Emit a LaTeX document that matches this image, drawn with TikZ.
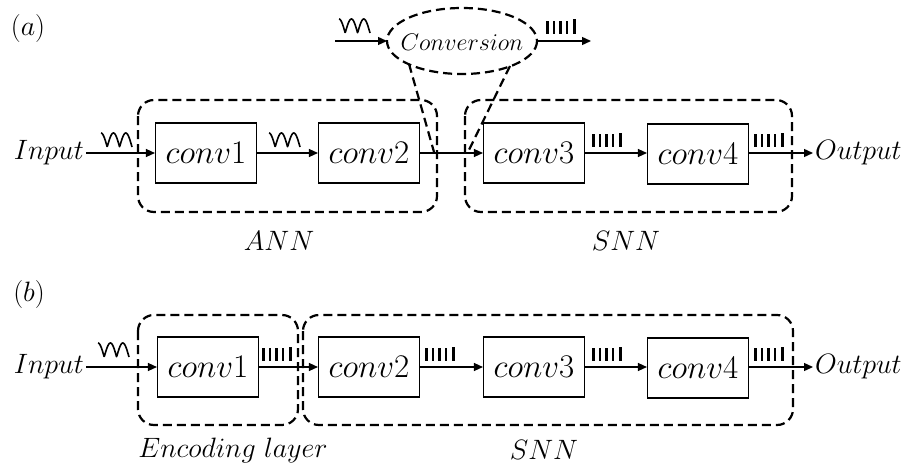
\RequirePackage{fix-cm}
\documentclass[tikz,border=0pt]{standalone}
\usetikzlibrary{arrows.meta,shapes.geometric}
\begin{document}
\begin{tikzpicture}[x=1pt,y=-1pt,
  convbox/.style={draw,line width=1.1pt,minimum width=101pt,minimum height=60pt,inner sep=0pt,font=\fontsize{33}{35}\selectfont},
  lbl/.style={inner sep=2pt,font=\fontsize{28}{30}\selectfont},
  grp/.style={draw,line width=2.2pt,dash pattern=on 9pt off 5pt,rounded corners=16pt},
  callout/.style={line width=2.2pt,dash pattern=on 9pt off 5pt},
  arr/.style={line width=1.3pt,-{Triangle[length=9pt,width=8pt]}},
  wave/.pic={\draw[line width=1.6pt,line join=round] plot[domain=0:450,samples=73] ({\x/450*31},{-14*abs(cos(\x))});},
  spikes/.pic={\foreach \i in {0,...,3} \fill (\i*6.5,0) rectangle ++(2.6,-13); \fill (27,0) rectangle ++(2.6,-14.5);}
]
\useasboundingbox (0,0) rectangle (909,468);

% ---------------- (a) ----------------
\node[lbl] (la) at (28,29) {$(a)$};
\draw[grp] (138,100) rectangle (437,212);
\draw[grp] (465,100) rectangle (792,212);

\node[convbox] (a1) at (206,153) {$conv1$};
\node[convbox] (a2) at (369,153) {$conv2$};
\node[convbox] (a3) at (534,153) {$conv3$};
\node[convbox] (a4) at (698,154) {$conv4$};
\node[lbl,anchor=east] (ain) at (86,153) {$Input$};
\node[lbl,anchor=west] (aout) at (813,153) {$Output$};

\draw[arr] (ain.east) -- (a1.west);
\draw[arr] (a1.east) -- (a2.west);
\draw[arr] (a2.east) -- (a3.west);
\draw[arr] (a3.east) -- (a4.west |- a3);
\draw[arr] (a4.east |- aout) -- (aout.west);

\node[inner sep=0pt,font=\fontsize{24}{26}\selectfont] (conv) at (462,42) {$Conversion$};
\draw[callout] (462,41) ellipse [x radius=75, y radius=33];
\coordinate (cw) at (387,41);
\coordinate (ce) at (537,41);
\coordinate (cin) at (335,41);
\coordinate (cout) at (591,41);
\draw[arr] (cin) -- (cw);
\draw[arr] (ce) -- (cout);

\coordinate (e1) at (409,64);
\coordinate (e2) at (510,66);
\coordinate (f1) at (434,152);
\coordinate (f2) at (468,152);
\draw[callout] (e1) -- (f1);
\draw[callout] (e2) -- (f2);

\pic at (101,147) {wave};
\pic at (269,147) {wave};
\pic at (339,33) {wave};
\pic at (546,34) {spikes};
\pic at (592,147) {spikes};
\pic at (754,147) {spikes};

\node[lbl] (ann) at (279,241) {$ANN$};
\node[lbl] (snna) at (626,241) {$SNN$};

% ---------------- (b) ----------------
\node[lbl] (lb) at (29,294) {$(b)$};
\draw[grp] (138,315) rectangle (298,425);
\draw[grp] (303,315) rectangle (793,425);

\node[convbox] (b1) at (208,367) {$conv1$};
\node[convbox] (b2) at (369,367) {$conv2$};
\node[convbox] (b3) at (534,367) {$conv3$};
\node[convbox] (b4) at (698,368) {$conv4$};
\node[lbl,anchor=east] (bin) at (86,367) {$Input$};
\node[lbl,anchor=west] (bout) at (813,367) {$Output$};

\draw[arr] (bin.east) -- (b1.west);
\draw[arr] (b1.east) -- (b2.west);
\draw[arr] (b2.east) -- (b3.west);
\draw[arr] (b3.east) -- (b4.west |- b3);
\draw[arr] (b4.east |- bout) -- (bout.west);

\pic at (98,357) {wave};
\pic at (262,361) {spikes};
\pic at (425,361) {spikes};
\pic at (592,361) {spikes};
\pic at (754,361) {spikes};

\node[lbl] (enc) at (233,450) {$Encoding\ layer$};
\node[lbl] (snnb) at (544,450) {$SNN$};
\end{tikzpicture}
\end{document}
